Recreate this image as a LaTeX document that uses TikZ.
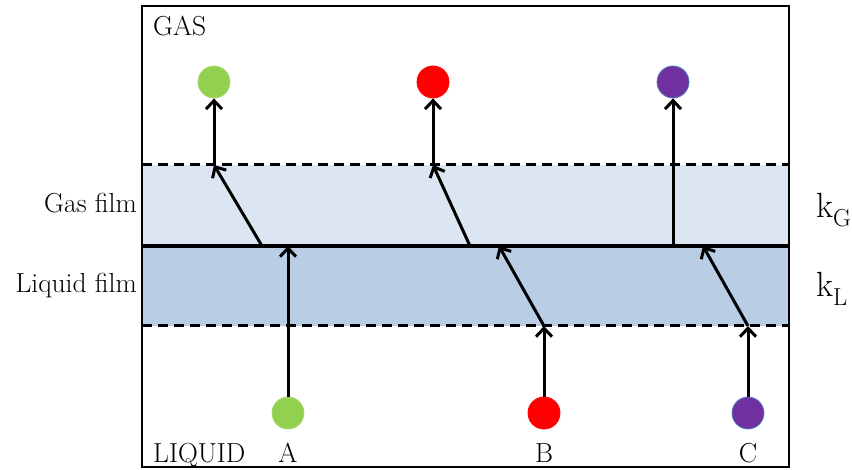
\documentclass[tikz,border=0pt]{standalone}
\usepackage{fontspec}
\usetikzlibrary{arrows.meta}
\definecolor{gasfilm}{HTML}{DCE6F2}
\definecolor{liqfilm}{HTML}{B9CDE5}
\definecolor{molgreen}{HTML}{92D050}
\definecolor{molgreenedge}{HTML}{A9D86E}
\definecolor{molred}{HTML}{FF0000}
\definecolor{molpurple}{HTML}{7030A0}
\definecolor{molpurpleedge}{HTML}{4F81BD}
\begin{document}
\begin{tikzpicture}[x=1pt,y=-1pt,
  every node/.style={font=\fontsize{27.5}{32}\selectfont, inner sep=0pt},
  mol/.style={circle, minimum size=32pt, inner sep=0pt, line width=0.8pt},
  flow/.style={line width=3pt, -{Straight Barb[length=8.5pt,width=16pt]}},
  filmline/.style={line width=3pt, dash pattern=on 10pt off 6pt},
  klabel/.style={font=\fontsize{35}{38}\selectfont, anchor=base west}]
\useasboundingbox (0,0) rectangle (852,470);
% film bands
\fill[gasfilm] (142,165) rectangle (789,246);
\fill[liqfilm] (142,246) rectangle (789,326);
\draw[filmline] (142,165) -- (789,165);
\draw[filmline] (142,326) -- (789,326);
\draw[line width=3.5pt] (142,246) -- (789,246);
\draw[line width=2.6pt] (142,6) rectangle (789,467);
% labels
\node[anchor=base west] (gas) at (153,36) {GAS};
\node[anchor=base west] (liquid) at (153,462) {LIQUID};
\node[anchor=base east] (gasfilmlbl) at (137,213) {Gas film};
\node[anchor=base east] (liqfilmlbl) at (137,293) {Liquid film};
\node[klabel] (kG) at (816,218) {$\mathrm{k}_{\mathrm{G}}$};
\node[klabel] (kL) at (816,297) {$\mathrm{k}_{\mathrm{L}}$};
% molecules
\node[mol, fill=molgreen, draw=molgreenedge] (gA) at (214,82) {};
\node[mol, fill=molred, draw=molred] (gB) at (433,82) {};
\node[mol, fill=molpurple, draw=molpurpleedge] (gC) at (673,82) {};
\node[mol, fill=molgreen, draw=molgreenedge] (lA) at (288,413) {};
\node[mol, fill=molred, draw=molred] (lB) at (544,413) {};
\node[mol, fill=molpurple, draw=molpurpleedge] (lC) at (748,413) {};
\node[anchor=base] (nA) at (288,462) {A};
\node[anchor=base] (nB) at (544,462) {B};
\node[anchor=base] (nC) at (748,462) {C};
% waypoints
\coordinate (aI) at (288,246);
\coordinate (aS) at (262,246);
\coordinate (aG) at (214,165);
\coordinate (bL) at (544,326);
\coordinate (bI) at (499,246);
\coordinate (bS) at (470,246);
\coordinate (bG) at (433,165);
\coordinate (cL) at (748,326);
\coordinate (cI) at (703,246);
\coordinate (cS) at (673,246);
% flows
\draw[flow] (lA) -- (aI);
\draw[flow] (aS) -- (aG);
\draw[flow] (aG) -- (gA);
\draw[flow] (lB) -- (bL);
\draw[flow] (bL) -- (bI);
\draw[flow] (bS) -- (bG);
\draw[flow] (bG) -- (gB);
\draw[flow] (lC) -- (cL);
\draw[flow] (cL) -- (cI);
\draw[flow] (cS) -- (gC);
\end{tikzpicture}
\end{document}
